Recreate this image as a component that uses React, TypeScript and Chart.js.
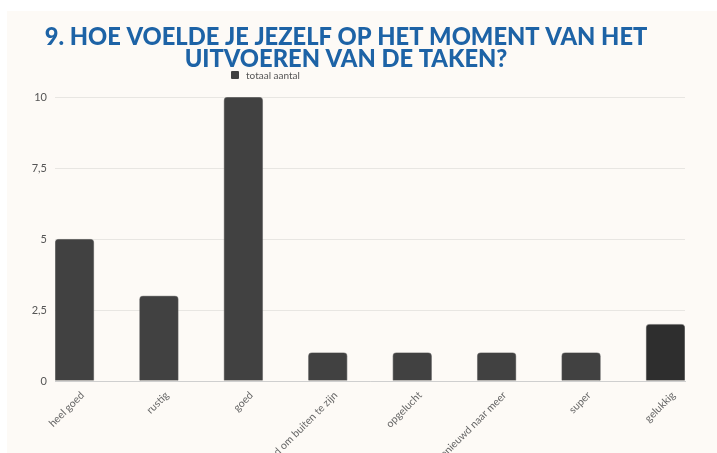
import React, { useEffect, useRef } from "react";
import { Chart, registerables } from "chart.js";

Chart.register(...registerables);

const categories = [
  "heel goed",
  "rustig",
  "goed",
  "goed om buiten te zijn",
  "opgelucht",
  "benieuwd naar meer",
  "super",
  "gelukkig",
];
const values = [5, 3, 10, 1, 1, 1, 1, 2];
const barColors = ["#414141", "#414141", "#414141", "#414141", "#414141", "#414141", "#414141", "#2e2e2e"];
const yTicks = [0, 2.5, 5, 7.5, 10];
const seriesName = "totaal aantal";
const titleLines = ["9. HOE VOELDE JE JEZELF OP HET MOMENT VAN HET", "UITVOEREN VAN DE TAKEN?"];

export default function App() {
  const ref = useRef<HTMLCanvasElement | null>(null);

  useEffect(() => {
    if (!ref.current) return;
    const chart = new Chart(ref.current, {
      type: "bar",
      data: {
        datasets: [
          {
            label: seriesName,
            data: categories.map((c, i) => ({ x: i, y: values[i] })),
            backgroundColor: barColors,
            borderColor: "rgba(110,110,110,0.7)",
            borderWidth: 0.8,
            borderRadius: { topLeft: 4, topRight: 4, bottomLeft: 0, bottomRight: 0 },
            borderSkipped: "bottom",
            barThickness: 39,
          },
        ],
      },
      options: {
        animation: false,
        responsive: false,
        maintainAspectRatio: false,
        layout: { padding: { left: 0, right: 32, top: 0, bottom: 0 } },
        plugins: {
          legend: { display: false },
          tooltip: { enabled: false },
          title: {
            display: true,
            text: titleLines,
            color: "#1d63a6",
            font: { family: "Lato", size: 23.7, weight: "900", lineHeight: "22px" as any },
            padding: { top: 15, bottom: 27 },
          },
        },
        scales: {
          x: {
            type: "linear",
            offset: false,
            min: -0.231,
            max: 7.231,
            grid: { display: false },
            border: { display: true, color: "#cfcfcf", width: 1 },
            afterBuildTicks: (scale: any) => {
              scale.ticks = categories.map((_, i) => ({ value: i }));
            },
            afterFit: (scale: any) => {
              scale.height = 72;
            },
            ticks: {
              autoSkip: false,
              maxRotation: 45,
              minRotation: 45,
              padding: 0,
              labelOffset: 8,
              color: "#666",
              font: { family: "Lato", size: 10.5 },
              callback: (v: any) => categories[v as number] ?? "",
            },
          },
          y: {
            min: 0,
            max: 10,
            afterBuildTicks: (scale: any) => {
              scale.ticks = yTicks.map((v) => ({ value: v }));
            },
            afterFit: (scale: any) => {
              scale.width = 48;
            },
            border: { display: false },
            grid: { color: "#e8e6e2", drawTicks: false, lineWidth: 1 },
            ticks: {
              padding: 8,
              color: "#555",
              font: { family: "Lato", size: 11 },
              callback: (v: any) => String(v).replace(".", ","),
            },
          },
        },
      },
    });
    return () => chart.destroy();
  }, []);

  return (
    <div
      style={{
        position: "absolute",
        left: 7,
        top: 11,
        width: 710,
        height: 442,
        background: "#fdfaf6",
      }}
    >
      <canvas ref={ref} width={710} height={442} style={{ display: "block" }} />
      <div
        style={{
          position: "absolute",
          left: 224,
          top: 58,
          display: "flex",
          alignItems: "center",
          fontFamily: "Lato",
          fontSize: 10,
          color: "#555",
        }}
      >
        <span style={{ display: "inline-block", width: 8, height: 8, background: "#414141", marginRight: 7, borderRadius: 1 }} />
        <span>{seriesName}</span>
      </div>
    </div>
  );
}
